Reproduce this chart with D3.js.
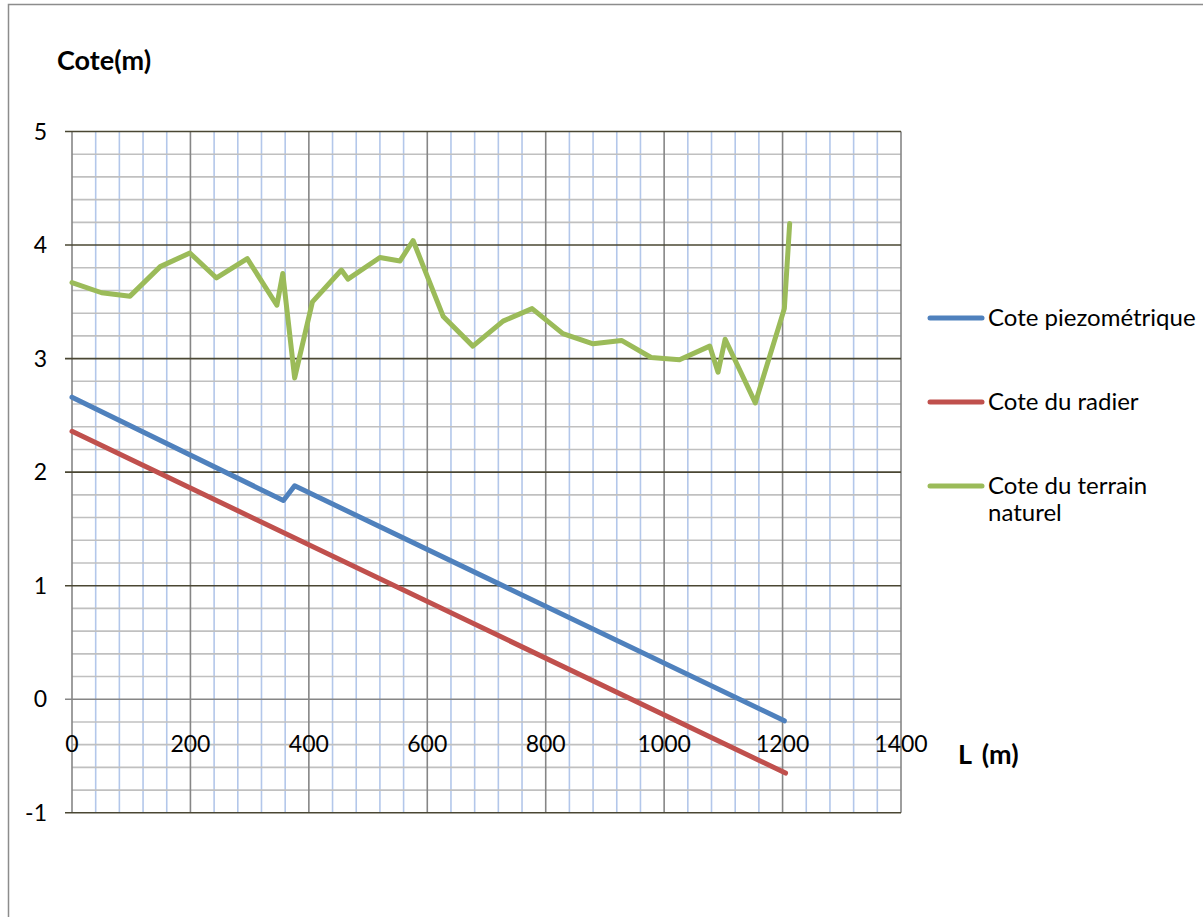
<!DOCTYPE html>
<html>
<head>
<meta charset="utf-8">
<script src="https://cdn.jsdelivr.net/npm/d3@7/dist/d3.min.js"></script>
<style>
  html, body { margin: 0; padding: 0; background: #fff; }
  svg { display: block; font-family: Lato, "Open Sans", sans-serif; }
</style>
</head>
<body>
<svg id="chart" width="1203" height="917"></svg>
<script>
// Longitudinal profile of the collector: distance L (m) vs elevation (m)
const seriesNames = ["Cote piezométrique", "Cote du radier", "Cote du terrain naturel"];
const seriesColors = ["#4f81bd", "#c0504d", "#9bbb59"];

const piezoL = [0, 357, 376, 1203];
const piezoZ = [2.66, 1.75, 1.88, -0.19];

const radierL = [0, 1205];
const radierZ = [2.36, -0.65];

const terrainL = [0, 50, 98, 149, 199, 244, 296, 346, 356, 376, 406, 455, 466, 520, 554, 576,
  627, 677, 728, 777, 829, 880, 928, 978, 1026, 1077, 1091, 1103, 1154, 1203, 1212];
const terrainZ = [3.67, 3.58, 3.55, 3.81, 3.93, 3.71, 3.88, 3.47, 3.75, 2.83, 3.50, 3.78, 3.70, 3.89, 3.86, 4.04,
  3.37, 3.11, 3.33, 3.44, 3.22, 3.13, 3.16, 3.01, 2.99, 3.11, 2.88, 3.17, 2.61, 3.44, 4.19];

const xTicks = [0, 200, 400, 600, 800, 1000, 1200, 1400];
const yTicks = [-1, 0, 1, 2, 3, 4, 5];

const svg = d3.select("#chart");

// chart frame (runs past the right and bottom edges of the page)
svg.append("rect")
  .attr("x", 8.5).attr("y", 4.5)
  .attr("width", 1210).attr("height", 930)
  .attr("fill", "#fff").attr("stroke", "#8c8c8c").attr("stroke-width", 1.5);

const x = d3.scaleLinear().domain([0, 1400]).range([72, 901]);
const y = d3.scaleLinear().domain([-1, 5]).range([812.8, 131.5]);

const grid = svg.append("g");

// minor vertical gridlines every 40 m
const xMinor = d3.range(0, 1401, 40).filter(v => v % 200 !== 0);
grid.selectAll(".xminor").data(xMinor).join("line")
  .attr("x1", d => x(d)).attr("x2", d => x(d))
  .attr("y1", y(5)).attr("y2", y(-1))
  .attr("stroke", "#b3c7ea").attr("stroke-width", 1.6);

// minor horizontal gridlines every 0.2 m
const yMinor = d3.range(-1, 5.001, 0.2).map(v => Math.round(v * 10) / 10)
  .filter(v => Math.abs(v - Math.round(v)) > 1e-6);
grid.selectAll(".yminor").data(yMinor).join("line")
  .attr("x1", x(0)).attr("x2", x(1400))
  .attr("y1", d => y(d)).attr("y2", d => y(d))
  .attr("stroke", "#c0c0c0").attr("stroke-width", 1.6);

// major vertical gridlines
grid.selectAll(".xmajor").data(xTicks).join("line")
  .attr("x1", d => x(d)).attr("x2", d => x(d))
  .attr("y1", y(5)).attr("y2", y(-1))
  .attr("stroke", "#868686").attr("stroke-width", 1.6);

// major horizontal gridlines
grid.selectAll(".ymajor").data(yTicks).join("line")
  .attr("x1", x(0) - 7).attr("x2", x(1400))
  .attr("y1", d => y(d)).attr("y2", d => y(d))
  .attr("stroke", d => d === 0 ? "#868686" : "#4a4733").attr("stroke-width", 1.6);

// y-axis tick labels
svg.append("g").selectAll("text").data(yTicks).join("text")
  .attr("x", 47).attr("y", d => y(d))
  .attr("dy", "0.35em")
  .attr("text-anchor", "end")
  .attr("font-size", 23)
  .attr("fill", "#000")
  .text(d => d);

// x-axis tick labels, placed just below the zero line
svg.append("g").selectAll("text").data(xTicks).join("text")
  .attr("x", d => x(d)).attr("y", y(0) + 45)
  .attr("dy", "0.35em")
  .attr("text-anchor", "middle")
  .attr("font-size", 23)
  .attr("fill", "#000")
  .text(d => d);

// axis titles
svg.append("text").attr("x", 57).attr("y", 61).attr("dy", "0.35em")
  .attr("font-size", 27).attr("font-weight", "bold").text("Cote(m)");
svg.append("text").attr("x", 958).attr("y", 755).attr("dy", "0.35em")
  .attr("font-size", 27).attr("font-weight", "bold").attr("word-spacing", 4).text("L (m)");

// series lines
const line = d3.line().x(d => x(d[0])).y(d => y(d[1]));
const seriesData = [
  d3.zip(piezoL, piezoZ),
  d3.zip(radierL, radierZ),
  d3.zip(terrainL, terrainZ)
];
const drawOrder = [0, 1, 2];
svg.append("g").selectAll("path").data(drawOrder).join("path")
  .attr("d", i => line(seriesData[i]))
  .attr("fill", "none")
  .attr("stroke", i => seriesColors[i])
  .attr("stroke-width", 5)
  .attr("stroke-linejoin", "round")
  .attr("stroke-linecap", "round");

// legend
const legendY = [318, 402, 486];
const legend = svg.append("g");
legend.selectAll("line").data(seriesNames).join("line")
  .attr("x1", 930).attr("x2", 982)
  .attr("y1", (d, i) => legendY[i]).attr("y2", (d, i) => legendY[i])
  .attr("stroke", (d, i) => seriesColors[i])
  .attr("stroke-width", 5).attr("stroke-linecap", "round");
legend.selectAll("text").data(seriesNames).join("text")
  .attr("x", 988).attr("y", (d, i) => legendY[i])
  .attr("dy", "0.35em")
  .attr("font-size", 24)
  .attr("fill", "#000")
  .each(function (d) {
    const t = d3.select(this);
    if (d === "Cote du terrain naturel") {
      t.append("tspan").attr("x", 988).text("Cote du terrain");
      t.append("tspan").attr("x", 988).attr("dy", "1.1em").text("naturel");
    } else {
      t.text(d);
    }
  });
</script>
</body>
</html>
